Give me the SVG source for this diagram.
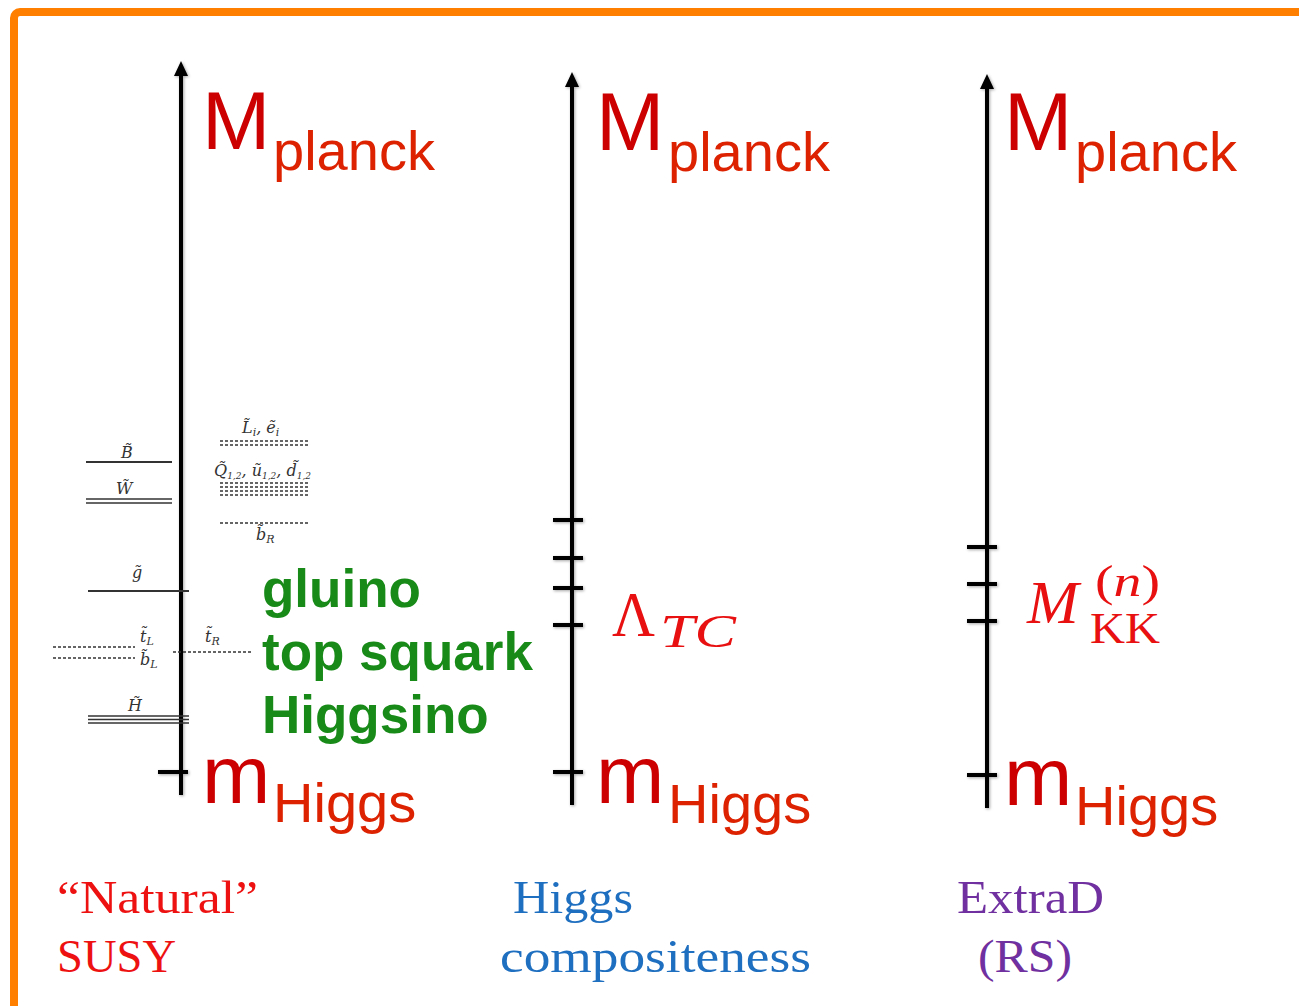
<svg xmlns="http://www.w3.org/2000/svg" width="1299" height="1006" viewBox="0 0 1299 1006">
<style>
.axis{stroke:#000;stroke-width:4;fill:none}
.tick{stroke:#000;stroke-width:4}
.big{font-family:"Liberation Sans",Arial,sans-serif;font-size:82px;fill:#cc0000}
.sub{font-family:"Liberation Sans",Arial,sans-serif;font-size:56px;fill:#dc2200}
.green{font-family:"Liberation Sans",Arial,sans-serif;font-size:53px;font-weight:bold;fill:#178a17}
.cap{font-family:"Liberation Serif","Times New Roman",serif;font-size:46px}
.sm{font-family:"DejaVu Serif","Liberation Serif",serif;font-style:italic;font-size:16px;fill:#333}
.ssub{font-size:11px}
.lvl{stroke:#333;stroke-width:2;fill:none}
.lvl2{stroke:#333;stroke-width:1.4;fill:none}
.dot{stroke:#333;stroke-width:1.6;stroke-dasharray:3 2;fill:none}
.math{font-family:"Liberation Serif","Times New Roman",serif;fill:#e81010}
</style>
<defs>
<marker id="arr" markerUnits="userSpaceOnUse" markerWidth="16" markerHeight="16" refX="0" refY="7" orient="auto">
<path d="M0,0 L15,7 L0,14 Z" fill="#000"/>
</marker>
<filter id="sh" x="-50%" y="-5%" width="200%" height="110%">
<feDropShadow dx="1" dy="1" stdDeviation="1.5" flood-color="#000" flood-opacity="0.35"/>
</filter>
</defs>
<rect width="1299" height="1006" fill="#fff"/>
<rect id="frame" x="14" y="12" width="1400" height="1100" rx="6" fill="none" stroke="#ff7f00" stroke-width="8"/>

<g id="connectors" filter="url(#sh)">
<line class="axis" x1="181" y1="795" x2="181" y2="76" marker-end="url(#arr)"/>
<line class="tick" x1="158" y1="772" x2="188" y2="772"/>
<line class="axis" x1="572" y1="805" x2="572" y2="87" marker-end="url(#arr)"/>
<line class="tick" x1="553" y1="520" x2="583" y2="520"/>
<line class="tick" x1="553" y1="558" x2="583" y2="558"/>
<line class="tick" x1="553" y1="588" x2="583" y2="588"/>
<line class="tick" x1="553" y1="625" x2="583" y2="625"/>
<line class="tick" x1="553" y1="772" x2="583" y2="772"/>
<line class="axis" x1="987" y1="808" x2="987" y2="89" marker-end="url(#arr)"/>
<line class="tick" x1="967" y1="547" x2="997" y2="547"/>
<line class="tick" x1="967" y1="584" x2="997" y2="584"/>
<line class="tick" x1="967" y1="621" x2="997" y2="621"/>
<line class="tick" x1="967" y1="775" x2="997" y2="775"/>
</g>

<g id="susy-spectrum">
<line class="lvl" x1="86" y1="462" x2="172" y2="462"/>
<text class="sm" x="121" y="458">B̃</text>
<line class="lvl2" x1="86" y1="499" x2="172" y2="499"/>
<line class="lvl2" x1="86" y1="503" x2="172" y2="503"/>
<text class="sm" x="116" y="494">W̃</text>
<line class="lvl" x1="88" y1="591" x2="189" y2="591"/>
<text class="sm" x="132" y="578">g̃</text>
<line class="dot" x1="53" y1="647" x2="135" y2="647"/>
<line class="dot" x1="53" y1="658" x2="135" y2="658"/>
<text class="sm" x="140" y="642">t̃<tspan class="ssub" dy="3">L</tspan></text>
<text class="sm" x="140" y="665">b̃<tspan class="ssub" dy="3">L</tspan></text>
<line class="dot" x1="173" y1="652" x2="253" y2="652"/>
<text class="sm" x="205" y="642">t̃<tspan class="ssub" dy="3">R</tspan></text>
<line class="lvl2" x1="88" y1="716" x2="189" y2="716"/>
<line class="lvl2" x1="88" y1="719.5" x2="189" y2="719.5"/>
<line class="lvl2" x1="88" y1="723" x2="189" y2="723"/>
<text class="sm" x="128" y="711">H̃</text>
<line class="dot" x1="220" y1="441" x2="308" y2="441"/>
<line class="dot" x1="220" y1="445" x2="308" y2="445"/>
<text class="sm" x="242" y="433">L̃<tspan class="ssub" dy="3">i</tspan><tspan dy="-3">, ẽ</tspan><tspan class="ssub" dy="3">i</tspan></text>
<line class="dot" x1="220" y1="483" x2="308" y2="483"/>
<line class="dot" x1="220" y1="487" x2="308" y2="487"/>
<line class="dot" x1="220" y1="491" x2="308" y2="491"/>
<line class="dot" x1="220" y1="495" x2="308" y2="495"/>
<text class="sm" x="214" y="476" font-size="13.5">Q̃<tspan font-size="9" dy="3">1,2</tspan><tspan dy="-3">, ũ</tspan><tspan font-size="9" dy="3">1,2</tspan><tspan dy="-3">, d̃</tspan><tspan font-size="9" dy="3">1,2</tspan></text>
<line class="dot" x1="220" y1="523" x2="308" y2="523"/>
<text class="sm" x="256" y="540">b̃<tspan class="ssub" dy="3">R</tspan></text>
</g>

<g id="susy-labels">
<text class="big" x="202" y="149">M</text>
<text class="sub" x="273" y="170">planck</text>
<text class="big" x="202" y="803">m</text>
<text class="sub" x="273" y="822">Higgs</text>
<text class="green" x="262" y="607">gluino</text>
<text class="green" x="262" y="670">top squark</text>
<text class="green" x="262" y="733">Higgsino</text>
<text class="cap" x="57" y="913" fill="#ee1111" textLength="201" lengthAdjust="spacingAndGlyphs">“Natural”</text>
<text class="cap" x="57" y="972" fill="#ee1111" textLength="119" lengthAdjust="spacingAndGlyphs">SUSY</text>
</g>

<g id="composite-labels">
<text class="big" x="596" y="150">M</text>
<text class="sub" x="668" y="171">planck</text>
<text class="big" x="596" y="803">m</text>
<text class="sub" x="668" y="823">Higgs</text>
<text class="math" x="612" y="636" font-size="64" textLength="43" lengthAdjust="spacingAndGlyphs">Λ</text>
<text class="math" x="660" y="647" font-size="46" font-style="italic" textLength="76" lengthAdjust="spacingAndGlyphs">TC</text>
<text class="cap" x="513" y="913" fill="#1f6fc0" textLength="120" lengthAdjust="spacingAndGlyphs">Higgs</text>
<text class="cap" x="500" y="972" fill="#1f6fc0" textLength="311" lengthAdjust="spacingAndGlyphs">compositeness</text>
</g>

<g id="rs-labels">
<text class="big" x="1004" y="150">M</text>
<text class="sub" x="1075" y="171">planck</text>
<text class="big" x="1004" y="805">m</text>
<text class="sub" x="1075" y="825">Higgs</text>
<text class="math" x="1027" y="623" font-size="62" font-style="italic">M</text>
<text class="math" x="1095" y="596" font-size="44" textLength="65" lengthAdjust="spacingAndGlyphs">(<tspan font-style="italic">n</tspan>)</text>
<text class="math" x="1090" y="643" font-size="44" textLength="70" lengthAdjust="spacingAndGlyphs">KK</text>
<text class="cap" x="957" y="913" fill="#7030a0" textLength="147" lengthAdjust="spacingAndGlyphs">ExtraD</text>
<text class="cap" x="978" y="972" fill="#7030a0" textLength="94" lengthAdjust="spacingAndGlyphs">(RS)</text>
</g>
</svg>
